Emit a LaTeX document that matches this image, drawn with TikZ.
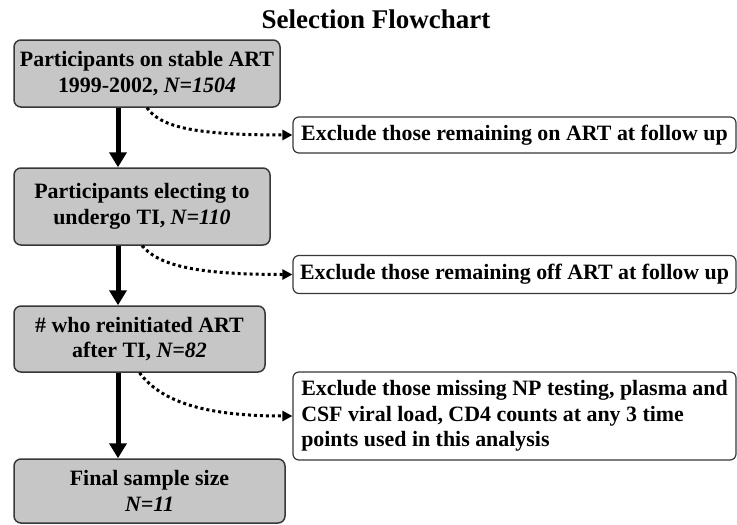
\documentclass[tikz,border=0pt]{standalone}
\usepackage{fontspec}
\setmainfont{Liberation Serif}
\usetikzlibrary{arrows.meta}
\definecolor{boxgray}{RGB}{198,198,198}
\definecolor{edgegray}{RGB}{55,55,55}
\begin{document}
\begin{tikzpicture}[x=1pt,y=-1pt,
  txt/.style={font=\bfseries\fontsize{21.9}{25.5}\selectfont},
  mainbox/.style={txt, draw=edgegray, line width=1.5pt, fill=boxgray, rounded corners=7pt, align=center, inner sep=0pt},
  sidebox/.style={txt, draw=edgegray, line width=1.2pt, fill=white, rounded corners=6pt, inner sep=0pt, minimum width=443pt},
  mainarrow/.style={line width=5pt, -{Triangle[length=15pt,width=17pt]}},
  dotarrow/.style={line width=3pt, dash pattern=on 3pt off 3pt, -{Triangle[length=10pt,width=10pt]}}
]
\useasboundingbox (0,0) rectangle (737,525);
\node[font=\bfseries\fontsize{27}{30}\selectfont] (title) at (376,19) {Selection Flowchart};

\node[mainbox, minimum width=266pt, minimum height=67pt] (b1) at (147,73.5)
  {Participants on stable ART\\1999-2002, \textit{N=1504}};
\node[mainbox, minimum width=256pt, minimum height=77pt] (b2) at (142,206.5)
  {Participants electing to\\undergo TI, \textit{N=110}};
\node[mainbox, minimum width=251pt, minimum height=66pt] (b3) at (139.5,339)
  {\# who reinitiated ART\\after TI, \textit{N=82}};
\node[mainbox, minimum width=271pt, minimum height=64pt] (b4) at (149.5,491)
  {Final sample size\\\textit{N=11}};

\node[sidebox, minimum height=36pt] (r1) at (514.5,135)
  {Exclude those remaining on ART at follow up};
\node[sidebox, minimum height=38pt] (r2) at (514.5,274.5)
  {Exclude those remaining off ART at follow up};
\node[sidebox, minimum height=88pt, align=left] (r3) at (514.5,416)
  {Exclude those missing NP testing, plasma and\\CSF viral load, CD4 counts at any 3 time\\points used in this analysis};

\coordinate (vx) at (118,0);
\draw[mainarrow] (b1.south -| vx) -- (b2.north -| vx);
\draw[mainarrow] (b2.south -| vx) -- (b3.north -| vx);
\draw[mainarrow] (b3.south -| vx) -- (b4.north -| vx);

\draw[dotarrow] (b1.south) .. controls (160,126) and (190,135) .. (r1.west);
\draw[dotarrow] (b2.south) .. controls (158,264) and (190,274.5) .. (r2.west);
\draw[dotarrow] (b3.south) .. controls (160,400) and (200,416) .. (r3.west);
\end{tikzpicture}
\end{document}
